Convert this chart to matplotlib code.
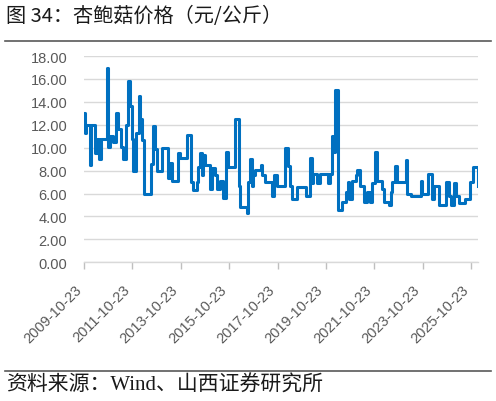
import matplotlib
matplotlib.use('Agg')
import matplotlib.pyplot as plt
import matplotlib.transforms as mtransforms
from matplotlib.lines import Line2D
import pandas as pd

# chart texts
title = '图 34：杏鲍菇价格（元/公斤）'
source = '资料来源：Wind、山西证券研究所'

# price series (元/公斤)
dates = [
    '2009-10-23', '2009-11-04', '2009-11-23', '2010-01-08', '2010-01-23', '2010-02-08',
    '2010-03-08', '2010-04-08', '2010-05-08', '2010-06-08', '2010-07-05', '2010-08-20',
    '2010-10-01', '2010-10-15', '2010-11-20', '2011-01-05', '2011-02-20', '2011-03-20',
    '2011-05-05', '2011-06-05', '2011-07-20', '2011-08-23', '2011-09-20', '2011-10-15',
    '2011-11-08', '2011-12-20', '2012-02-01', '2012-02-15', '2012-03-15', '2012-04-15',
    '2012-07-15', '2012-07-23', '2012-09-01', '2012-10-01', '2012-11-01', '2013-01-15',
    '2013-03-15', '2013-04-15', '2013-05-15', '2013-06-15', '2013-08-15', '2013-09-15',
    '2013-10-15', '2013-12-28', '2014-01-28', '2014-03-15', '2014-03-20', '2014-04-28',
    '2014-06-23', '2014-07-10', '2014-08-10', '2014-09-08', '2014-09-25', '2014-10-25',
    '2014-12-10', '2015-01-10', '2015-02-10', '2015-03-25', '2015-04-25', '2015-06-10',
    '2015-07-25', '2015-09-10', '2015-10-10', '2015-12-23', '2016-01-23', '2016-02-23',
    '2016-03-15', '2016-04-08', '2016-06-23', '2016-07-15', '2016-08-08', '2016-09-08',
    '2016-10-01', '2016-10-25', '2016-11-23', '2017-01-08', '2017-02-08', '2017-03-01',
    '2017-04-20', '2017-07-05', '2017-08-01', '2017-08-25', '2017-10-15', '2017-12-28',
    '2018-02-20', '2018-03-23', '2018-05-05', '2018-06-05', '2018-07-20', '2018-08-20',
    '2018-11-20', '2018-12-20', '2019-02-01', '2019-03-01', '2019-03-25', '2019-04-15',
    '2019-06-15', '2019-08-01', '2019-10-15', '2019-11-28', '2019-12-28', '2020-01-28',
    '2020-02-15', '2020-03-15', '2020-04-08', '2020-04-20', '2020-04-28', '2020-06-15',
    '2020-07-15', '2020-08-15', '2020-09-15', '2020-10-01', '2020-10-28', '2020-11-15',
    '2020-12-15', '2021-01-15', '2021-02-08', '2021-03-28', '2021-05-15', '2021-07-08',
    '2021-08-25', '2021-09-23', '2021-11-10', '2021-12-08', '2022-01-25', '2022-02-20',
    '2022-03-15', '2022-05-05', '2022-05-28', '2022-06-25', '2022-07-20', '2022-09-08',
    '2022-10-05', '2023-01-08', '2023-02-08', '2023-03-05', '2023-04-23', '2023-08-23',
    '2023-09-23', '2023-10-15', '2023-12-20', '2024-01-05', '2024-02-20', '2024-03-15',
    '2024-04-08', '2024-05-30', '2024-06-20', '2024-08-20', '2024-10-05', '2024-11-05',
    '2024-11-25', '2024-12-20', '2025-02-08', '2025-03-05', '2025-04-20', '2025-07-05',
    '2025-07-20', '2025-09-20', '2025-10-08', '2025-11-20', '2026-01-08', '2026-01-30',
]
prices = [
    13.0, 11.3, 12.0, 12.0, 8.5, 12.0,
    12.0, 9.5, 10.8, 9.0, 10.8, 10.8,
    17.0, 10.1, 11.0, 10.5, 13.0, 11.6,
    10.1, 9.0, 12.0, 15.8, 13.6, 10.8,
    8.0, 11.3, 14.5, 12.5, 10.7, 6.0,
    6.0, 8.6, 11.9, 9.9, 8.0, 10.0,
    10.0, 7.4, 8.7, 7.1, 7.1, 9.5,
    9.1, 9.1, 11.1, 11.1, 7.0, 6.3,
    7.0, 8.3, 9.5, 7.6, 9.4, 8.5,
    8.5, 6.4, 8.2, 7.6, 6.4, 7.1,
    5.6, 9.6, 8.3, 8.3, 12.5, 12.5,
    6.7, 4.8, 4.8, 4.3, 7.0, 9.0,
    6.7, 7.6, 8.1, 8.1, 8.5, 7.6,
    7.0, 7.0, 5.8, 7.6, 6.7, 6.7,
    10.0, 8.4, 6.7, 5.5, 5.5, 6.6,
    6.6, 5.8, 5.8, 9.1, 6.9, 7.7,
    6.9, 7.7, 7.7, 6.9, 7.7, 11.0,
    9.6, 15.0, 15.0, 9.5, 4.6, 5.3,
    5.3, 6.1, 7.0, 5.5, 5.5, 7.1,
    7.1, 7.6, 8.1, 6.7, 5.3, 6.1,
    5.3, 6.9, 9.6, 7.1, 7.1, 6.4,
    5.3, 5.3, 5.0, 6.1, 7.0, 8.4,
    7.0, 7.0, 8.9, 6.0, 5.8, 5.8,
    7.1, 6.0, 6.0, 7.7, 7.7, 5.5,
    6.7, 6.7, 5.0, 5.0, 7.0, 7.0,
    5.8, 5.0, 6.9, 5.8, 5.2, 5.2,
    5.5, 5.5, 7.0, 8.3, 8.3, 6.7,
]

tick_dates = ['2009-10-23', '2011-10-23', '2013-10-23', '2015-10-23', '2017-10-23',
              '2019-10-23', '2021-10-23', '2023-10-23', '2025-10-23']
y_ticks = [0, 2, 4, 6, 8, 10, 12, 14, 16, 18]

plt.rcParams['font.family'] = ['Liberation Sans', 'Noto Sans CJK SC']

fig = plt.figure(figsize=(4.96, 4.02), dpi=100)
ax = fig.add_axes([0.1694, 0.345, 0.7943, 0.513])

# weekly prices hold their level between changes, so draw them as steps
ax.plot(pd.to_datetime(dates), prices, color='#0070C0', lw=2.2, drawstyle='steps-post')

ax.set_xlim(pd.Timestamp('2009-10-23'), pd.Timestamp('2026-02-05'))
ax.set_ylim(0, 18)
ax.set_yticks(y_ticks)
ax.set_yticklabels([f'{v:.2f}' for v in y_ticks])
ax.set_xticks(pd.to_datetime(tick_dates))
ax.set_xticklabels(tick_dates, rotation=45, ha='right')

# Excel-style: rotated label sits slightly right of its tick
shift = mtransforms.ScaledTranslation(8 / 100, 0, fig.dpi_scale_trans)
for lab in ax.get_xticklabels():
    lab.set_transform(lab.get_transform() + shift)

ax.tick_params(axis='x', length=5, width=1, color='#bfbfbf', pad=9,
               labelsize=10.5, labelcolor='#595959')
ax.tick_params(axis='y', length=0, pad=12, labelsize=10.5, labelcolor='#595959')

for s in ['top', 'right', 'left']:
    ax.spines[s].set_visible(False)
ax.spines['bottom'].set_color('#d9d9d9')
ax.spines['bottom'].set_linewidth(1)
ax.yaxis.grid(True, color='#d9d9d9', lw=1)
ax.set_axisbelow(True)

# title, source and the two rules
fig.text(0.012, 0.960, title, fontsize=14.5, va='center', ha='left',
         family=['Noto Sans CJK SC', 'DejaVu Sans'], color='#1a1a1a')
fig.add_artist(Line2D([0.010, 0.990], [0.8948, 0.8948], color='#595959', lw=1.2))
fig.add_artist(Line2D([0.010, 0.990], [0.0754, 0.0754], color='#595959', lw=1.2))
fig.text(0.012, 0.040, source, fontsize=15, va='center', ha='left',
         family=['Liberation Serif', 'Noto Sans CJK SC'], color='#1a1a1a')

fig.savefig('out.png', dpi=100)
